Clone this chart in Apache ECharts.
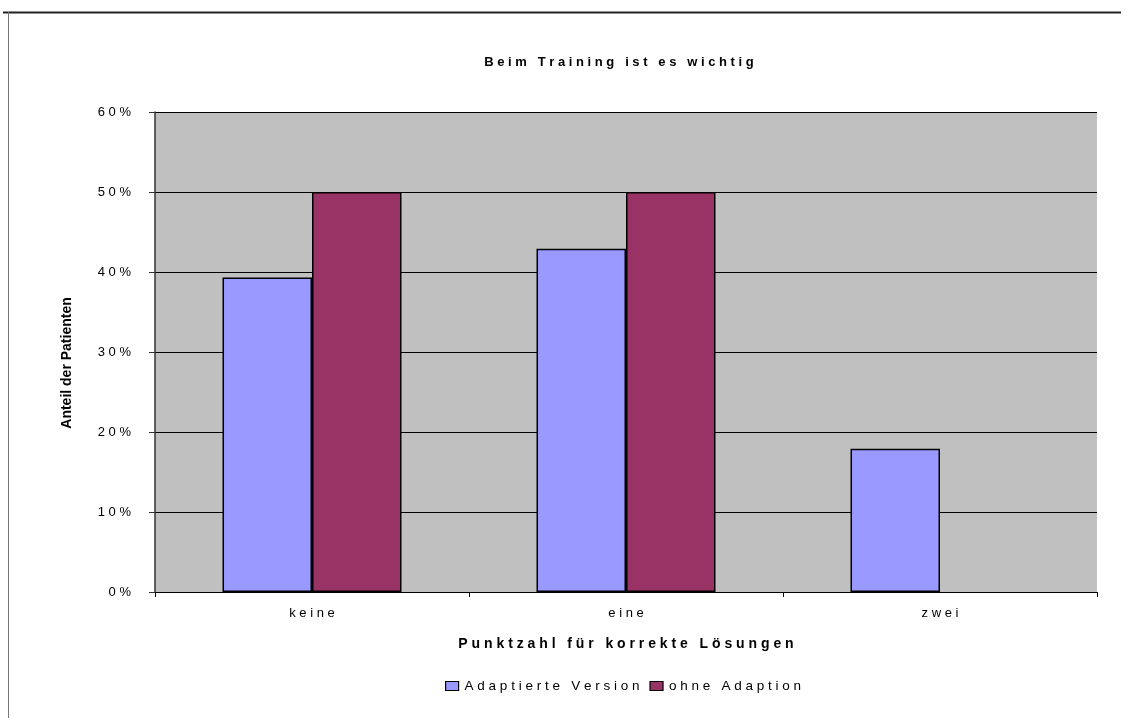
<!DOCTYPE html>
<html>
<head>
<meta charset="utf-8">
<script src="https://cdn.jsdelivr.net/npm/echarts@6/dist/echarts.min.js"></script>
<style>
  html, body { margin: 0; padding: 0; background: #fff; }
  #chart { width: 1131px; height: 724px; }
</style>
</head>
<body>
<div id="chart"></div>
<script>
// Share of patients by score for correct solutions
const categories = ['keine', 'eine', 'zwei'];
const adaptedVersion = [39.3, 42.9, 17.9];
const withoutAdaption = [50, 50, 0];
const seriesNames = ['Adaptierte Version', 'ohne Adaption'];
const titleText = 'Beim Training ist es wichtig';
const xAxisTitle = 'Punktzahl für korrekte Lösungen';
const yAxisTitle = 'Anteil der Patienten';

// widen text the way the old spreadsheet export spaced its glyphs
const spaced = s => Array.from(s).join(' ');

// zero-height bars draw no outline
const barData = arr => arr.map(v => (v === 0 ? { value: v, itemStyle: { borderWidth: 0 } } : v));

const FONT = 'Liberation Sans, Arial, sans-serif';
const chart = echarts.init(document.getElementById('chart'), null, { renderer: 'canvas' });

chart.setOption({
  animation: false,
  backgroundColor: '#ffffff',
  title: {
    text: spaced(titleText),
    left: 614, textAlign: 'center', top: 51,
    textStyle: { fontFamily: FONT, fontSize: 13, fontWeight: 'bold', color: '#000' }
  },
  legend: {
    data: seriesNames.map(n => ({ name: n })),
    left: 440, top: 674,
    itemWidth: 13, itemHeight: 9, itemGap: 10,
    icon: 'rect',
    formatter: n => spaced(n),
    textStyle: { fontFamily: FONT, fontSize: 13.5, color: '#000', padding: [0, 0, 0, 1] },
    itemStyle: { borderColor: '#000', borderWidth: 1.2 }
  },
  grid: { left: 155, right: 34, top: 112, bottom: 132, show: true, backgroundColor: '#c0c0c0', borderWidth: 0 },
  xAxis: {
    type: 'category',
    data: categories,
    name: spaced(xAxisTitle),
    nameLocation: 'middle', nameGap: 45,
    nameTextStyle: { fontFamily: FONT, fontSize: 14, fontWeight: 'bold', color: '#000' },
    axisLine: { lineStyle: { color: '#000', width: 1 } },
    axisTick: { show: true, length: 5, lineStyle: { color: '#000' } },
    axisLabel: { formatter: v => spaced(v), fontFamily: FONT, fontSize: 13, color: '#000', margin: 15 }
  },
  yAxis: {
    type: 'value',
    min: 0, max: 60, interval: 10,
    axisLine: { show: true, lineStyle: { color: '#333', width: 1.5 } },
    axisTick: { show: true, length: 6, lineStyle: { color: '#333' } },
    axisLabel: { formatter: v => spaced(v + '%'), fontFamily: FONT, fontSize: 13, color: '#000', margin: 24 },
    splitLine: { show: true, lineStyle: { color: '#000', width: 1 } }
  },
  series: [
    {
      name: seriesNames[0], type: 'bar', data: barData(adaptedVersion),
      barGap: '0%', barCategoryGap: '43%',
      itemStyle: { color: '#9999ff', borderColor: '#000', borderWidth: 1.5 }
    },
    {
      name: seriesNames[1], type: 'bar', data: barData(withoutAdaption),
      itemStyle: { color: '#993366', borderColor: '#000', borderWidth: 1.5 }
    }
  ],
  graphic: [
    // outer chart frame edges
    { type: 'line', shape: { x1: 3, y1: 12.5, x2: 1121, y2: 12.5 }, style: { stroke: '#222', lineWidth: 2 }, silent: true },
    { type: 'line', shape: { x1: 8.5, y1: 12, x2: 8.5, y2: 718 }, style: { stroke: '#777', lineWidth: 1 }, silent: true },
    // vertical axis title
    {
      type: 'text', x: 67, y: 363, rotation: Math.PI / 2, silent: true,
      style: {
        text: yAxisTitle, x: 0, y: 0, align: 'center', verticalAlign: 'middle',
        font: 'bold 14px ' + FONT, fill: '#000'
      }
    }
  ]
});
</script>
</body>
</html>
